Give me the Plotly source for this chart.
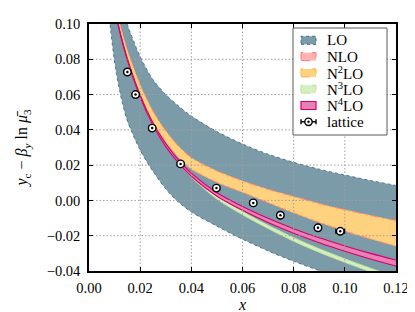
import plotly.graph_objects as go

# ---------------- data ----------------
# LO band edges
lo_up_x = [0.0135, 0.0149, 0.02, 0.025, 0.03, 0.035, 0.04, 0.05, 0.06, 0.07, 0.08, 0.09, 0.10, 0.11, 0.12]
lo_up_y = [0.1065, 0.1000, 0.0815, 0.0685, 0.0600, 0.0535, 0.0478, 0.0390, 0.0320, 0.0262, 0.0216, 0.0177, 0.0144, 0.0113, 0.0085]
lo_dn_x = [0.0080, 0.0085, 0.0095, 0.0107, 0.012, 0.013, 0.015, 0.02, 0.025, 0.03, 0.035, 0.04, 0.05, 0.06, 0.07, 0.08, 0.09, 0.10, 0.12]
lo_dn_y = [0.103, 0.096, 0.084, 0.0720, 0.062, 0.0555, 0.045, 0.0285, 0.0165, 0.0065, -0.0010, -0.0065, -0.0146, -0.0220, -0.0286, -0.0345, -0.0398, -0.0447, -0.0535]

# common x grid for the higher orders
band_x = [0.0105, 0.011, 0.0125, 0.015, 0.02, 0.025, 0.03, 0.035, 0.04, 0.05, 0.06, 0.07, 0.08, 0.09, 0.10, 0.11, 0.12]
nlo_lo = [0.1059, 0.1026, 0.0935, 0.0805, 0.0600, 0.0445, 0.0332, 0.0242, 0.0177, 0.0102, 0.0045, -0.0013, -0.0071, -0.0125, -0.0174, -0.0219, -0.0260]
nlo_hi = [0.1095, 0.1062, 0.0976, 0.0851, 0.0656, 0.0506, 0.0395, 0.0308, 0.0243, 0.0168, 0.0111, 0.0063, 0.0023, -0.0017, -0.0052, -0.0084, -0.0114]
n2lo_lo = [0.1062, 0.1029, 0.0938, 0.0808, 0.0603, 0.0448, 0.0335, 0.0245, 0.0180, 0.0105, 0.0048, -0.0010, -0.0068, -0.0122, -0.0171, -0.0216, -0.0257]
n2lo_hi = [0.1092, 0.1059, 0.0973, 0.0848, 0.0653, 0.0503, 0.0392, 0.0305, 0.0240, 0.0165, 0.0108, 0.0060, 0.0020, -0.0020, -0.0055, -0.0087, -0.0117]
n3lo_lo = [0.1049, 0.1016, 0.0924, 0.0793, 0.0586, 0.0428, 0.0308, 0.0212, 0.0132, 0.0008, -0.0081, -0.0159, -0.0231, -0.0294, -0.0351, -0.0404, -0.0453]
n3lo_hi = [0.1059, 0.1026, 0.0934, 0.0803, 0.0596, 0.0438, 0.0318, 0.0226, 0.0146, 0.0026, -0.0063, -0.0141, -0.0211, -0.0274, -0.0331, -0.0384, -0.0433]
n4lo_lo = [0.1048, 0.1015, 0.0923, 0.0792, 0.0584, 0.0426, 0.0305, 0.0213, 0.0137, 0.0024, -0.0056, -0.0125, -0.0186, -0.0240, -0.0288, -0.0332, -0.0372]
n4lo_hi = [0.1060, 0.1027, 0.0935, 0.0804, 0.0598, 0.0440, 0.0321, 0.0229, 0.0155, 0.0044, -0.0034, -0.0101, -0.0160, -0.0212, -0.0258, -0.0300, -0.0338]

# lattice points
lat_x = [0.0150, 0.0182, 0.0247, 0.0358, 0.0498, 0.0642, 0.0748, 0.0895, 0.0982]
lat_y = [0.0728, 0.0600, 0.0410, 0.0207, 0.0070, -0.0014, -0.0084, -0.0155, -0.0175]
lat_dx = [0.0012, 0.0012, 0.0012, 0.0012, 0.0012, 0.0012, 0.0012, 0.0012, 0.0017]
lat_dy = [0.0006, 0.0006, 0.0006, 0.0006, 0.0006, 0.0006, 0.0006, 0.0006, 0.0008]

# ticks
x_ticks = [0.00, 0.02, 0.04, 0.06, 0.08, 0.10, 0.12]
x_tick_text = ["0.00", "0.02", "0.04", "0.06", "0.08", "0.10", "0.12"]
y_ticks = [-0.04, -0.02, 0.00, 0.02, 0.04, 0.06, 0.08, 0.10]
y_tick_text = ["\u22120.04", "\u22120.02", "0.00", "0.02", "0.04", "0.06", "0.08", "0.10"]

legend_labels = ["LO", "NLO", "N<sup>2</sup>LO", "N<sup>3</sup>LO", "N<sup>4</sup>LO", "lattice"]

# ---------------- styles ----------------
FONT = "Liberation Serif, serif"
C_LO, E_LO = "#7b9ba8", "#446f84"
C_NLO, E_NLO = "#ffb3b3", "#ff7b7b"
C_N2, E_N2 = "#ffd27f", "#ffae45"
C_N3, E_N3 = "#d6efc0", "#bde39d"
C_N4, E_N4 = "#e87fb5", "#d5006b"

W, H = 415, 312
ML, MR, MT, MB = 81, 27, 16, 49
PW, PH = W - ML - MR, H - MT - MB

fig = go.Figure()


def add_band(xl, yl, xu, yu, fill, edge, dash, width):
    fig.add_trace(go.Scatter(x=xl, y=yl, mode="lines",
                             line=dict(color=edge, width=width, dash=dash, shape="spline", smoothing=0.8),
                             hoverinfo="skip", showlegend=False))
    fig.add_trace(go.Scatter(x=xu, y=yu, mode="lines", fill="tonexty", fillcolor=fill,
                             line=dict(color=edge, width=width, dash=dash, shape="spline", smoothing=0.8),
                             hoverinfo="skip", showlegend=False))


add_band(lo_dn_x, lo_dn_y, lo_up_x, lo_up_y, C_LO, E_LO, "dot", 0.9)
add_band(band_x, nlo_lo, band_x, nlo_hi, C_NLO, E_NLO, "dash", 1)
add_band(band_x, n2lo_lo, band_x, n2lo_hi, C_N2, E_N2, "dot", 1)
add_band(band_x, n3lo_lo, band_x, n3lo_hi, C_N3, E_N3, "solid", 1)
add_band(band_x, n4lo_lo, band_x, n4lo_hi, C_N4, E_N4, "solid", 1.1)

# dotted grid lines (above the filled bands, below the points)
gx, gy = [], []
for t in x_ticks[1:-1]:
    gx += [t, t, None]
    gy += [y_ticks[0], y_ticks[-1], None]
for t in y_ticks[1:-1]:
    gx += [x_ticks[0], x_ticks[-1], None]
    gy += [t, t, None]
fig.add_trace(go.Scatter(x=gx, y=gy, mode="lines", line=dict(color="#a0a0a0", width=1, dash="1.5px,2px"),
                         hoverinfo="skip", showlegend=False))

# lattice data
fig.add_trace(go.Scatter(
    x=lat_x, y=lat_y, mode="markers",
    marker=dict(symbol="circle", size=7.5, color="white", line=dict(color="black", width=1.4)),
    error_x=dict(type="data", array=lat_dx, color="black", thickness=1.4, width=2.5),
    error_y=dict(type="data", array=lat_dy, color="black", thickness=1.4, width=2.5),
    hoverinfo="skip", showlegend=False))
fig.add_trace(go.Scatter(x=lat_x, y=lat_y, mode="markers",
                         marker=dict(symbol="circle", size=2.5, color="black"),
                         hoverinfo="skip", showlegend=False))


# ---------------- manual legend ----------------
def px(x):
    return (x - ML) / PW


def py(y):
    return (H - MB - y) / PH


shapes = []
annotations = []
shapes.append(dict(type="rect", xref="paper", yref="paper", x0=px(285), x1=px(379), y0=py(127), y1=py(20),
                   fillcolor="white", line=dict(color="#5a5a5a", width=1), layer="above"))
swatches = [(C_LO, E_LO, "dot"), (C_NLO, E_NLO, "dash"), (C_N2, E_N2, "dash"),
            (C_N3, E_N3, "dash"), (C_N4, E_N4, "solid")]
row0, drow = 32.3, 16.3
for i, lab in enumerate(legend_labels):
    yc = row0 + i * drow
    if i < 5:
        f, e, d = swatches[i]
        shapes.append(dict(type="rect", xref="paper", yref="paper", x0=px(293), x1=px(308),
                           y0=py(yc + 4), y1=py(yc - 4), fillcolor=f,
                           line=dict(color=e, width=1.2 if i == 4 else 1, dash=d), layer="above"))
    else:
        shapes.append(dict(type="line", xref="paper", yref="paper", x0=px(293), x1=px(308),
                           y0=py(yc), y1=py(yc), line=dict(color="black", width=1.4), layer="above"))
        for xe in (293, 308):
            shapes.append(dict(type="line", xref="paper", yref="paper", x0=px(xe), x1=px(xe),
                               y0=py(yc - 2.5), y1=py(yc + 2.5), line=dict(color="black", width=1.4), layer="above"))
        shapes.append(dict(type="circle", xref="paper", yref="paper", x0=px(296.8), x1=px(304.2),
                           y0=py(yc + 3.7), y1=py(yc - 3.7), fillcolor="white",
                           line=dict(color="black", width=1.4), layer="above"))
        shapes.append(dict(type="circle", xref="paper", yref="paper", x0=px(299.5), x1=px(301.5),
                           y0=py(yc + 1), y1=py(yc - 1), fillcolor="black",
                           line=dict(color="black", width=0.5), layer="above"))
    annotations.append(dict(xref="paper", yref="paper", x=px(317), y=py(yc), text=lab, showarrow=False,
                            xanchor="left", yanchor="middle", font=dict(family=FONT, size=15, color="black")))

axis_common = dict(showline=True, linecolor="black", linewidth=1.5, mirror="ticks",
                   ticks="inside", ticklen=4, tickwidth=1.2, tickcolor="black",
                   showgrid=False, zeroline=False, layer="above traces", automargin=False,
                   tickfont=dict(family=FONT, size=14.5, color="black"))

fig.update_layout(
    template="none",
    width=W, height=H,
    margin=dict(l=ML, r=MR, t=MT, b=MB, autoexpand=False),
    paper_bgcolor="white", plot_bgcolor="white",
    font=dict(family=FONT, size=14, color="black"),
    xaxis=dict(range=[x_ticks[0], x_ticks[-1]], tickmode="array", tickvals=x_ticks, ticktext=x_tick_text,
               ticklabelstandoff=3,
               title=dict(text="<i>x</i>", font=dict(family=FONT, size=16, color="black"), standoff=3),
               **axis_common),
    yaxis=dict(range=[y_ticks[0], y_ticks[-1]], tickmode="array", tickvals=y_ticks, ticktext=y_tick_text,
               ticklabelstandoff=4,
               title=dict(text="<i>y</i><sub>c</sub> \u2212 <i>\u03b2</i><sub><i>y</i></sub> ln <i>\u03bc\u0304</i><sub>3</sub>",
                          font=dict(family=FONT, size=16, color="black"), standoff=15),
               **axis_common),
    shapes=shapes, annotations=annotations,
    showlegend=False,
)

fig.write_html("out.html")
